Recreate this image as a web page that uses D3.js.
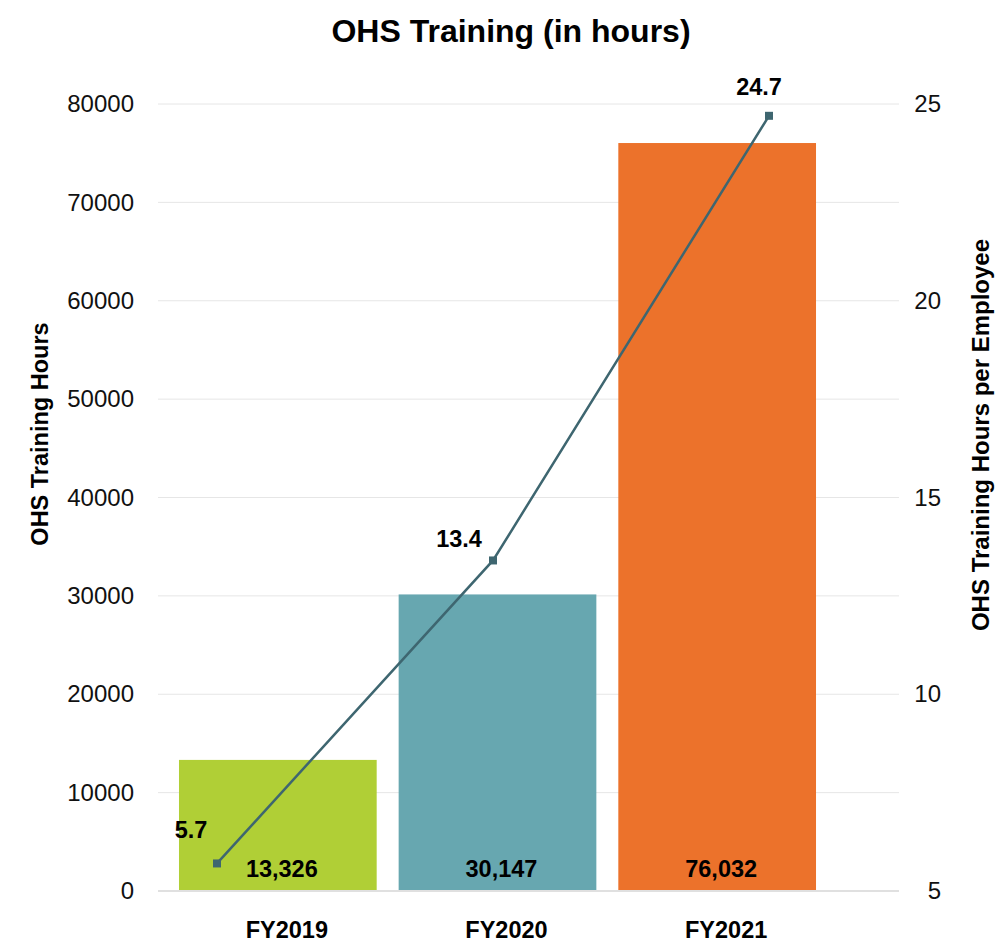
<!DOCTYPE html>
<html>
<head>
<meta charset="utf-8">
<script src="https://cdn.jsdelivr.net/npm/d3@7"></script>
<style>
  html, body { margin: 0; padding: 0; background: #ffffff; }
  svg { display: block; font-family: "Liberation Sans", Arial, sans-serif; }
</style>
</head>
<body>
<svg id="chart" width="996" height="947"></svg>
<script>
// Fiscal years and training totals
const categories = ["FY2019", "FY2020", "FY2021"];
const trainingHours = [13326, 30147, 76032];
const hoursPerEmployee = [5.7, 13.4, 24.7];
const barColors = ["#b0cf36", "#67a7b0", "#ec722b"];
const leftTicks = [0, 10000, 20000, 30000, 40000, 50000, 60000, 70000, 80000];
const rightTicks = [5, 10, 15, 20, 25];
// label nudges for the per-employee values, relative to each marker
const lineLabelNudge = [[-26, -25], [-34, -13], [-10, -21]];

const svg = d3.select("#chart");
const gridLeft = 158, gridRight = 899;
const yTop = 104, yBottom = 891;

const x = d3.scaleBand().domain(categories).range([168, 827])
  .paddingInner(0.1).paddingOuter(0.05);
const xLine = d3.scalePoint().domain(categories).range([217, 769]);
const yLeft = d3.scaleLinear().domain([0, 80000]).range([yBottom, yTop]);
const yRight = d3.scaleLinear().domain([5, 25]).range([yBottom, yTop]);

// title
svg.append("text")
  .attr("x", 511).attr("y", 42)
  .attr("text-anchor", "middle")
  .attr("font-size", 32).attr("font-weight", "bold").attr("fill", "#000")
  .text("OHS Training (in hours)");

// horizontal gridlines
svg.append("g").selectAll("line").data(leftTicks).join("line")
  .attr("x1", gridLeft).attr("x2", gridRight)
  .attr("y1", d => yLeft(d)).attr("y2", d => yLeft(d))
  .attr("stroke", d => d === 0 ? "#e0e0e0" : "#e6e6e6")
  .attr("stroke-width", d => d === 0 ? 2 : 1);

// left axis
const leftAxis = svg.append("g")
  .attr("transform", `translate(134,0)`)
  .call(d3.axisLeft(yLeft).tickValues(leftTicks).tickFormat(d3.format("d")).tickSize(0).tickPadding(0));
leftAxis.select(".domain").remove();
leftAxis.selectAll("text").attr("font-size", 24).attr("fill", "#111")
  .attr("font-family", "Liberation Sans, Arial, sans-serif");

// right axis
const rightAxis = svg.append("g")
  .attr("transform", `translate(941,0)`)
  .call(d3.axisLeft(yRight).tickValues(rightTicks).tickFormat(d3.format("d")).tickSize(0).tickPadding(0));
rightAxis.select(".domain").remove();
rightAxis.selectAll("text").attr("font-size", 24).attr("fill", "#111")
  .attr("font-family", "Liberation Sans, Arial, sans-serif");

// axis titles
svg.append("text")
  .attr("transform", "translate(48,434) rotate(-90)")
  .attr("text-anchor", "middle")
  .attr("font-size", 23.5).attr("font-weight", "bold").attr("fill", "#000")
  .text("OHS Training Hours");
svg.append("text")
  .attr("transform", "translate(989,435) rotate(-90)")
  .attr("text-anchor", "middle")
  .attr("font-size", 24).attr("font-weight", "bold").attr("fill", "#000")
  .text("OHS Training Hours per Employee");

// bars
svg.append("g").selectAll("rect").data(categories).join("rect")
  .attr("x", d => x(d))
  .attr("width", x.bandwidth())
  .attr("y", (d, i) => yLeft(trainingHours[i]))
  .attr("height", (d, i) => yLeft(0) - yLeft(trainingHours[i]) - 1)
  .attr("fill", (d, i) => barColors[i]);

// bar value labels
svg.append("g").selectAll("text").data(categories).join("text")
  .attr("x", d => x(d) + x.bandwidth() / 2 + 4)
  .attr("y", yLeft(0) - 14)
  .attr("text-anchor", "middle")
  .attr("font-size", 23.5).attr("font-weight", "bold").attr("fill", "#000")
  .text((d, i) => d3.format(",")(trainingHours[i]));

// category labels
svg.append("g").selectAll("text").data(categories).join("text")
  .attr("x", d => x(d) + x.bandwidth() / 2 + 9)
  .attr("y", 938)
  .attr("text-anchor", "middle")
  .attr("font-size", 23.5).attr("font-weight", "bold").attr("fill", "#000")
  .text(d => d);

// per-employee line
const lineColor = "#3e6670";
const line = d3.line()
  .x((d, i) => xLine(categories[i]))
  .y(d => yRight(d));
svg.append("path")
  .datum(hoursPerEmployee)
  .attr("d", line)
  .attr("fill", "none")
  .attr("stroke", lineColor)
  .attr("stroke-width", 2.5);

svg.append("g").selectAll("rect").data(hoursPerEmployee).join("rect")
  .attr("x", (d, i) => xLine(categories[i]) - 4)
  .attr("y", d => yRight(d) - 4)
  .attr("width", 8).attr("height", 8)
  .attr("fill", lineColor);

svg.append("g").selectAll("text").data(hoursPerEmployee).join("text")
  .attr("x", (d, i) => xLine(categories[i]) + lineLabelNudge[i][0])
  .attr("y", (d, i) => yRight(d) + lineLabelNudge[i][1])
  .attr("text-anchor", "middle")
  .attr("font-size", 23.5).attr("font-weight", "bold").attr("fill", "#000")
  .text(d => d3.format(".1f")(d));
</script>
</body>
</html>
